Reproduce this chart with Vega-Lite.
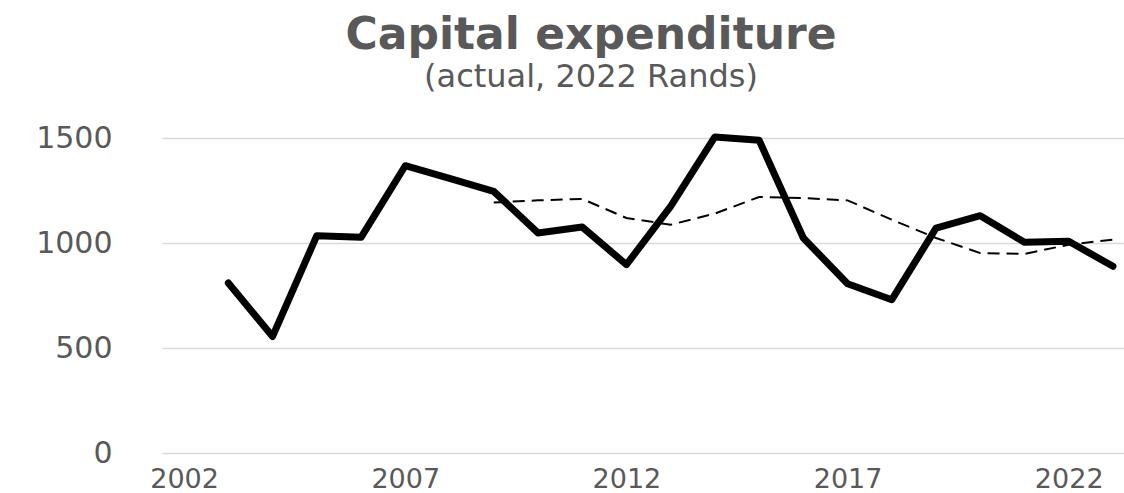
{
  "$schema": "https://vega.github.io/schema/vega-lite/v6.json",
  "autosize": {"type": "none"},
  "width": 962,
  "height": 336,
  "padding": {"left": 162, "top": 117, "right": 0, "bottom": 40},
  "background": "white",
  "config": {"view": {"stroke": null}},
  "title": {
    "text": "Capital expenditure",
    "subtitle": "(actual, 2022 Rands)",
    "anchor": "middle",
    "dx": -52,
    "offset": 24,
    "font": "DejaVu Sans",
    "fontSize": 44,
    "fontWeight": "bold",
    "color": "#595959",
    "subtitleFont": "DejaVu Sans",
    "subtitleFontSize": 32,
    "subtitleColor": "#595959",
    "subtitlePadding": 4
  },
  "data": {
    "values": [
      {"year": 2003, "series": "actual", "value": 810},
      {"year": 2004, "series": "actual", "value": 555},
      {"year": 2005, "series": "actual", "value": 1035},
      {"year": 2006, "series": "actual", "value": 1027},
      {"year": 2007, "series": "actual", "value": 1368},
      {"year": 2008, "series": "actual", "value": 1308},
      {"year": 2009, "series": "actual", "value": 1246},
      {"year": 2010, "series": "actual", "value": 1048},
      {"year": 2011, "series": "actual", "value": 1076},
      {"year": 2012, "series": "actual", "value": 897},
      {"year": 2013, "series": "actual", "value": 1174},
      {"year": 2014, "series": "actual", "value": 1505},
      {"year": 2015, "series": "actual", "value": 1489},
      {"year": 2016, "series": "actual", "value": 1024},
      {"year": 2017, "series": "actual", "value": 806},
      {"year": 2018, "series": "actual", "value": 730},
      {"year": 2019, "series": "actual", "value": 1071},
      {"year": 2020, "series": "actual", "value": 1130},
      {"year": 2021, "series": "actual", "value": 1003},
      {"year": 2022, "series": "actual", "value": 1008},
      {"year": 2023, "series": "actual", "value": 889},
      {"year": 2009, "series": "trend", "value": 1193},
      {"year": 2010, "series": "trend", "value": 1203},
      {"year": 2011, "series": "trend", "value": 1210},
      {"year": 2012, "series": "trend", "value": 1119},
      {"year": 2013, "series": "trend", "value": 1087},
      {"year": 2014, "series": "trend", "value": 1140},
      {"year": 2015, "series": "trend", "value": 1219},
      {"year": 2016, "series": "trend", "value": 1214},
      {"year": 2017, "series": "trend", "value": 1203},
      {"year": 2018, "series": "trend", "value": 1111},
      {"year": 2019, "series": "trend", "value": 1024},
      {"year": 2020, "series": "trend", "value": 952},
      {"year": 2021, "series": "trend", "value": 948},
      {"year": 2022, "series": "trend", "value": 992},
      {"year": 2023, "series": "trend", "value": 1016}
    ]
  },
  "encoding": {
    "x": {
      "field": "year",
      "type": "quantitative",
      "scale": {"domain": [2001.5, 2023.25], "nice": false, "zero": false},
      "axis": {
        "title": null,
        "values": [2002, 2007, 2012, 2017, 2022],
        "format": "d",
        "grid": false,
        "ticks": false,
        "domain": false,
        "labelFont": "DejaVu Sans",
        "labelFontSize": 27,
        "labelColor": "#595959",
        "labelPadding": 13
      }
    },
    "y": {
      "field": "value",
      "type": "quantitative",
      "scale": {"domain": [0, 1600], "nice": false},
      "axis": {
        "title": null,
        "values": [0, 500, 1000, 1500],
        "format": "d",
        "grid": true,
        "gridColor": "#d9d9d9",
        "gridWidth": 1.3,
        "ticks": false,
        "domain": false,
        "labelFont": "DejaVu Sans",
        "labelFontSize": 30,
        "labelColor": "#595959",
        "labelPadding": 50
      }
    }
  },
  "layer": [
    {
      "transform": [{"filter": "datum.series === 'trend'"}],
      "mark": {"type": "line", "color": "black", "strokeWidth": 2, "strokeDash": [12, 7]}
    },
    {
      "transform": [{"filter": "datum.series === 'actual'"}],
      "mark": {"type": "line", "color": "black", "strokeWidth": 7, "strokeJoin": "round", "strokeCap": "round"}
    }
  ]
}
